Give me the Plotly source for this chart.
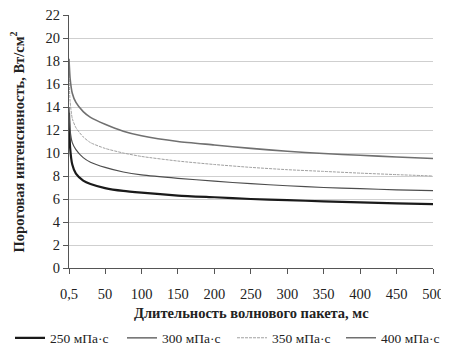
import plotly.graph_objects as go

t_ms = [0.5, 2, 5, 10, 20, 30, 50, 75, 100, 150, 200, 250, 300, 350, 400, 450, 500]
i_250 = [13.5, 10.5, 9.0, 8.2, 7.6, 7.3, 6.95, 6.7, 6.55, 6.3, 6.15, 6.0, 5.9, 5.8, 5.7, 5.62, 5.55]
i_300 = [14.0, 12.0, 10.9, 10.3, 9.6, 9.2, 8.75, 8.35, 8.1, 7.8, 7.55, 7.33, 7.15, 7.0, 6.9, 6.8, 6.72]
i_350 = [16.8, 14.5, 13.0, 12.2, 11.4, 10.9, 10.4, 10.0, 9.7, 9.3, 9.0, 8.75, 8.55, 8.4, 8.25, 8.12, 8.0]
i_400 = [18.2, 16.5, 15.2, 14.4, 13.6, 13.1, 12.5, 11.9, 11.5, 11.0, 10.7, 10.4, 10.15, 9.95, 9.8, 9.65, 9.52]

tick_vals = [0.5, 50, 100, 150, 200, 250, 300, 350, 400, 450, 500]
tick_text = ["0,5", "50", "100", "150", "200", "250", "300", "350", "400", "450", "500"]
series_names = ["250 мПа·с", "300 мПа·с", "350 мПа·с", "400 мПа·с"]

ff = "Liberation Serif"
# page has an 8px body margin; figure fills the rest of the 449x347 window
W, H = 441, 339

fig = go.Figure()
styles = [
    dict(color="#1a1a1a", width=2.2),
    dict(color="#4d4d4d", width=1.2),
    dict(color="#a0a0a0", width=1.0, dash="3px,1px"),
    dict(color="#707070", width=1.6),
]
legend_ids = ["legend", "legend2", "legend3", "legend4"]
legend_x_px = [2, 114, 224, 333]
for name, ys, st, lid in zip(series_names, [i_250, i_300, i_350, i_400], styles, legend_ids):
    fig.add_trace(go.Scatter(x=t_ms, y=ys, mode="lines", name=name, legend=lid,
                             line=dict(shape="spline", smoothing=0.6, **st)))

legend_common = dict(orientation="h", xref="container", yref="container",
                     xanchor="left", yanchor="middle", y=1 - 330 / H,
                     font=dict(family=ff, size=13.5), itemwidth=30,
                     bgcolor="rgba(0,0,0,0)")
legends = {lid: dict(x=px / W, **legend_common) for lid, px in zip(legend_ids, legend_x_px)}

fig.update_layout(
    width=W, height=H,
    margin=dict(l=61, r=16, t=7, b=79, autoexpand=False),
    paper_bgcolor="white", plot_bgcolor="white",
    font=dict(family=ff, size=14, color="#222"),
    showlegend=True,
    xaxis=dict(range=[0.5, 500], tickmode="array", tickvals=tick_vals, ticktext=tick_text,
               showgrid=False, zeroline=False, showline=True, linecolor="#555", linewidth=1,
               ticks="outside", ticklen=5, tickcolor="#555", ticklabelstandoff=8,
               ticklabeloverflow="allow", tickfont=dict(family=ff, size=14.5)),
    yaxis=dict(range=[0, 22], tickmode="array", tickvals=list(range(0, 23, 2)),
               showgrid=True, gridcolor="#cfcfcf", gridwidth=1, zeroline=False,
               showline=True, linecolor="#555", linewidth=1,
               ticks="outside", ticklen=5, tickcolor="#555", ticklabeloverflow="allow",
               tickfont=dict(family=ff, size=14.5)),
    annotations=[
        dict(text="<b>Длительность волнового пакета, мс</b>", xref="paper", yref="paper",
             x=0.5, y=-0.178, xanchor="center", yanchor="middle", showarrow=False,
             font=dict(family=ff, size=14.5)),
        dict(text="<b>Пороговая интенсивность, Вт/см<sup>2</sup></b>", xref="paper", yref="paper",
             x=-0.143, y=0.5, xanchor="center", yanchor="middle", textangle=-90, showarrow=False,
             font=dict(family=ff, size=14.5)),
    ],
    **legends,
)

fig.write_html("out.html")
